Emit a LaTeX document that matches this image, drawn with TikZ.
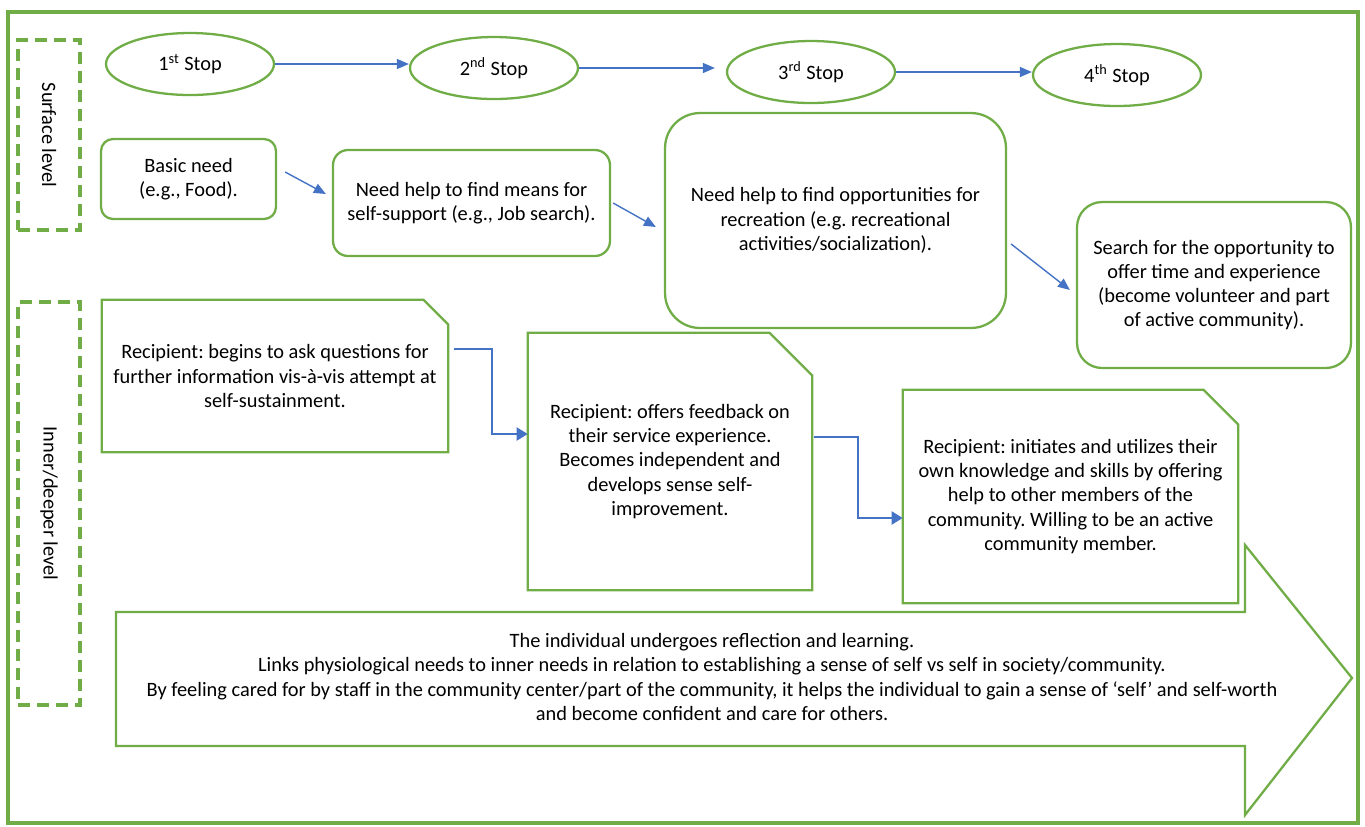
\documentclass[tikz,border=0pt]{standalone}
\usepackage{fontspec}
\setmainfont{Carlito}
\frenchspacing
\usetikzlibrary{arrows.meta,shapes.geometric}

\definecolor{leaf}{HTML}{70AD47}
\definecolor{link}{HTML}{4472C4}

% outline with the top right corner cut off
\newcommand\snipframe[2]{%
  \draw[leaf, line width=1.3pt] (#1.south west) -- (#1.north west) -- ([xshift=-#2]#1.north east)
    -- ([yshift=-#2]#1.north east) -- (#1.south east) -- cycle;}

\begin{document}
\begin{tikzpicture}[x=0.02cm,y=-0.02cm,
    every node/.style={font=\fontsize{11.6}{13.8}\selectfont, align=center, inner sep=0pt},
    stop/.style={ellipse, draw=leaf, line width=1.3pt, minimum width=3.36cm, minimum height=1.24cm},
    need/.style={rectangle, draw=leaf, line width=1.3pt, rounded corners=#1},
    reply/.style={rectangle},
    level/.style={draw=leaf, line width=1.8pt, dash pattern=on 0.24cm off 0.14cm,
      minimum width=1.24cm},
    flow/.style={draw=link, line width=0.8pt, -{Triangle[length=0.24cm,width=0.2cm]}},
    elbow/.style={draw=link, line width=1.2pt, -{Triangle[length=0.22cm,width=0.26cm]}}]
  \useasboundingbox (0,0) rectangle (1365,826);
  \draw[leaf, line width=2pt] (8,12) rectangle (1358,823);

  % levels
  \node[level, minimum height=3.8cm] (surf) at (49,135) {};
  \node[rotate=-90] (surftxt) at (surf) {Surface level};
  \node[level, minimum height=8.06cm] (deep) at (49,503.5) {};
  \node[rotate=-90] (deeptxt) at (deep) {Inner/deeper level};

  % stops
  \node[stop] (s1) at (190,64) {1\textsuperscript{st} Stop};
  \node[stop] (s2) at (494,68) {2\textsuperscript{nd} Stop};
  \node[stop] (s3) at (811,72) {3\textsuperscript{rd} Stop};
  \node[stop] (s4) at (1117,75) {4\textsuperscript{th} Stop};
  \draw[flow] (s1.east) -- (s1.east -| s2.west);
  \draw[flow, shorten >=0.22cm] (s2.east) -- (s2.east -| s3.west);
  \draw[flow] (s3.east) -- (s3.east -| s4.west);

  % surface needs
  \node[need=0.24cm, minimum width=3.5cm, minimum height=1.6cm] (basic) at (188.5,179)
    {Basic need\\(e.g., Food).};
  \node[need=0.3cm, minimum width=5.54cm, minimum height=2.12cm] (self) at (471.5,203)
    {Need help to find means for\\self-support (e.g., Job search).};
  \node[need=0.7cm, minimum width=6.82cm, minimum height=4.3cm] (recr) at (835.5,220.5)
    {Need help to find opportunities for\\recreation (e.g. recreational\\activities/socialization).};
  \node[need=0.5cm, minimum width=5.48cm, minimum height=3.32cm] (offer) at (1214,285)
    {Search for the opportunity to\\offer time and experience\\(become volunteer and part\\of active community).};
  \draw[flow] ([xshift=0.16cm,yshift=0.14cm]basic.east) -- ([xshift=-0.12cm,yshift=0.18cm]self.west);
  \draw[flow] ([xshift=0.04cm]self.east) -- ([xshift=-0.16cm,yshift=-0.13cm]recr.west);
  \draw[flow] ([xshift=0.08cm,yshift=-0.47cm]recr.east) -- ([xshift=-0.12cm,yshift=-0.1cm]offer.west);

  % inner steps
  \node[reply, minimum width=6.92cm, minimum height=3.04cm] (r1) at (275,376)
    {Recipient: begins to ask questions for\\further information vis-à-vis attempt at\\self-sustainment.};
  \node[reply, minimum width=5.68cm, minimum height=5.14cm] (r2) at (670,461.5)
    {Recipient: offers feedback on\\their service experience.\\Becomes independent and\\develops sense self-\\improvement.};
  \node[reply, minimum width=6.7cm, minimum height=4.26cm] (r3) at (1070.5,496.5)
    {Recipient: initiates and utilizes their\\own knowledge and skills by offering\\help to other members of the\\community. Willing to be an active\\community member.};
  \snipframe{r1}{0.5cm}
  \snipframe{r2}{0.86cm}
  \snipframe{r3}{0.7cm}
  \draw[elbow, shorten <=0.12cm] ([yshift=0.54cm]r1.east) -- ++(44,0) |- ([yshift=0.55cm]r2.west);
  \draw[elbow, shorten <=0.04cm] ([yshift=0.49cm]r2.east) -- ++(46,0) |- ([yshift=-0.43cm]r3.west);

  % reflection arrow
  \draw[leaf, line width=1.3pt] (116,612) -- (1245,612) -- (1245,545) -- (1352,678)
    -- (1245,815) -- (1245,746) -- (116,746) -- cycle;
  \node (reflect) at (712,677)
    {The individual undergoes reflection and learning.\\
     Links physiological needs to inner needs in relation to establishing a sense of self vs self in society/community.\\
     By feeling cared for by staff in the community center/part of the community, it helps the individual to gain a sense of ‘self’ and self-worth\\
     and become confident and care for others.};
\end{tikzpicture}
\end{document}
